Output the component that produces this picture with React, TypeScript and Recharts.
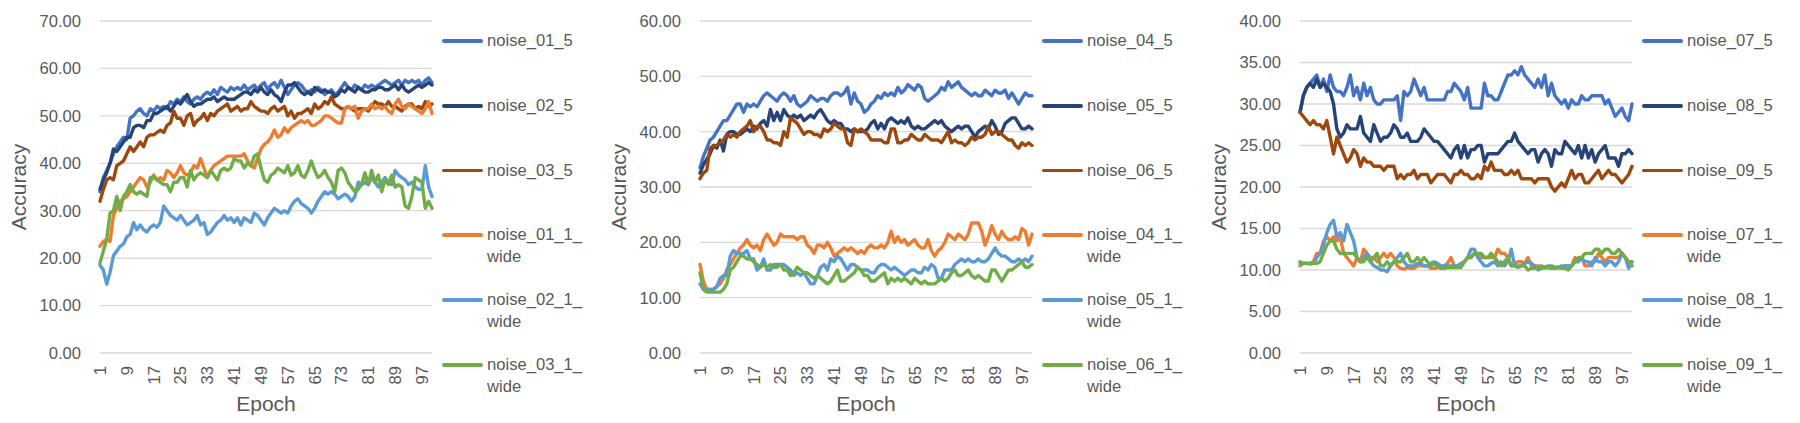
import React from 'react';
import { LineChart, Line, XAxis, YAxis, CartesianGrid, Legend, Label } from 'recharts';

// ---------- categories / ticks ----------
const epochs: number[] = Array.from({ length: 100 }, (_, i) => i + 1);
const xTicks = [1, 9, 17, 25, 33, 41, 49, 57, 65, 73, 81, 89, 97];
const yTicks1 = [0, 10, 20, 30, 40, 50, 60, 70];
const yTicks2 = [0, 10, 20, 30, 40, 50, 60];
const yTicks3 = [0, 5, 10, 15, 20, 25, 30, 35, 40];

const names1 = ['noise_01_5', 'noise_02_5', 'noise_03_5', 'noise_01_1_wide', 'noise_02_1_wide', 'noise_03_1_wide'];
const names2 = ['noise_04_5', 'noise_05_5', 'noise_06_5', 'noise_04_1_wide', 'noise_05_1_wide', 'noise_06_1_wide'];
const names3 = ['noise_07_5', 'noise_08_5', 'noise_09_5', 'noise_07_1_wide', 'noise_08_1_wide', 'noise_09_1_wide'];

// ---------- chart 1 series ----------
const noise_01_5 = [
  34, 37, 38.5, 40, 42, 43.5, 44.5, 45.5, 45, 49.5,
  50, 51, 51.5, 50.5, 50, 51.5, 51, 52, 51.5, 52,
  51.5, 53, 52.5, 53.5, 53, 54, 53, 52.5, 53.5, 54,
  53.5, 54.5, 55, 54.5, 55.5, 54.5, 56, 55.5, 55, 56,
  55.5, 56, 55.5, 56.5, 55.5, 56, 56.5, 55.5, 56.5, 57,
  55.5, 56.5, 57, 56, 57.5, 56, 54.5, 55.5, 56.5, 57,
  56.5, 55.5, 55, 55.5, 55, 56, 55.5, 54.5, 55, 55.5,
  54.5, 55, 56, 57, 56, 55.5, 56.5, 56, 55.5, 56.5,
  56, 56.5, 56, 56.5, 57, 57.5, 57, 56.5, 57, 57.5,
  56.5, 57.5, 57, 57.5, 57, 57.5, 56.5, 57.5, 58, 57,
];
const noise_02_5 = [
  34.5, 36.5, 38, 40, 43, 42.5, 43.5, 44.5, 45.5, 45.5,
  47.5, 48, 48, 47.5, 49, 49, 50.5, 50.5, 51, 51.5,
  52, 51, 52, 53, 52.5, 53.5, 54.5, 53, 52, 52.5,
  52.5, 53, 53.5, 53.5, 54, 53, 53.5, 54, 53.5, 53.5,
  53.5, 54, 54.5, 55, 55, 54.5, 55.5, 55, 56, 55,
  54.5, 55.5, 54.5, 54, 53, 55, 56.5, 56.5, 57, 56,
  55, 54.5, 55, 54.5, 56, 55.5, 55, 55.5, 55, 55,
  54, 54.5, 55.5, 55, 56, 55.5, 55, 56, 55.5, 55,
  55, 55.5, 55.5, 56, 56, 55.5, 55.5, 56, 56.5, 55.5,
  56.5, 55.5, 55, 55.5, 56, 56.5, 56, 56.5, 57, 56.5,
];
const noise_03_5 = [
  32, 34.5, 36.5, 37, 36.5, 39.5, 40, 40.5, 42, 43.5,
  42.5, 43.5, 44.5, 43.5, 45.5, 46, 46, 46.5, 47, 46.5,
  48, 48.5, 51, 49.5, 49.5, 48, 50, 50.5, 48, 49,
  49.5, 50.5, 49, 50.5, 50, 51, 51.5, 52, 52.5, 51,
  51.5, 52, 51, 51.5, 51.5, 53, 52, 51.5, 51, 51,
  50.5, 51.5, 52, 51, 51.5, 52, 50, 51, 49.5, 50.5,
  50.5, 51, 51.5, 50.5, 52.5, 51.5, 52, 53, 52.5, 54,
  52.5, 52, 51.5, 51.5, 52, 51.5, 51, 51.5, 51.5, 51.5,
  51, 52, 53, 52.5, 52.5, 52, 53, 52, 52, 51.5,
  51, 52, 52.5, 52.5, 51.5, 52, 51.5, 53, 52, 52.5,
];
const noise_01_1_wide = [
  22.5, 23.5, 24, 23.5, 29, 30.5, 32, 32.5, 33, 34,
  35, 36, 37, 36.5, 35, 36, 37.5, 36.5, 37, 36.5,
  38.5, 38, 37, 38, 39.5, 38, 37.5, 38, 39.5, 39,
  41, 39, 37, 38.5, 39.5, 40, 40.5, 41, 41.5, 41.5,
  41.5, 41.5, 41.5, 42, 40.5, 39.5, 39, 41, 43, 44,
  44.5, 45.5, 47, 45.5, 46, 47.5, 46.5, 47.5, 48, 48.5,
  49, 48.5, 49, 48, 48, 48.5, 49, 50, 50, 49.5,
  49, 48.5, 48.5, 51.5, 52, 51.5, 52, 49.5, 51, 51.5,
  51.5, 52.5, 51.5, 52, 51.5, 52, 51, 50.5, 52.5, 53.5,
  52, 51.5, 52.5, 52, 51.5, 51, 50.5, 51.5, 53, 50.5,
];
const noise_02_1_wide = [
  18.5, 17.5, 14.5, 17, 20.5, 21.5, 22.5, 23, 24.5, 25,
  27.5, 26, 27, 26, 25.5, 26.5, 27, 26.5, 27.5, 31,
  30, 29, 28.5, 28, 29, 28, 27, 27.5, 28, 29,
  27, 27.5, 25, 25.5, 26.5, 27.5, 28, 29, 28, 28.5,
  27.5, 28.5, 27, 28.5, 28, 27.5, 29.5, 29, 28, 27,
  28.5, 29.5, 30.5, 30, 29.5, 30, 29.5, 31, 32, 32.5,
  31.5, 31, 30.5, 29.5, 30.5, 32, 33, 34, 33.5, 34,
  33.5, 32.5, 33, 33.5, 33, 32, 33, 36, 35.5, 36,
  35.5, 37, 36, 35, 36, 37, 36, 35.5, 38.5, 37.5,
  37, 36.5, 35.5, 36, 35, 34.5, 34.5, 39.5, 35, 33,
];
const noise_03_1_wide = [
  19, 21.5, 24, 29.5, 30, 33, 30, 33, 34, 35.5,
  34, 33.5, 34, 33.5, 33, 37, 37, 36.5, 36, 35.5,
  35.5, 34, 36, 36, 37, 37, 35, 38.5, 36.5, 37.5,
  38, 37.5, 37, 38.5, 37.5, 36.5, 38.5, 39, 38.5, 39,
  41, 40.5, 40.5, 39, 40, 39.5, 41.5, 42, 39, 36.5,
  36, 37.5, 38, 39, 38.5, 38, 39.5, 37.5, 38, 39.5,
  37.5, 37, 38.5, 40.5, 38.5, 37, 37.5, 38.5, 37, 36,
  34, 38.5, 39, 38, 36, 35, 34, 34.5, 35.5, 38,
  35.5, 38.5, 36, 37.5, 34, 36.5, 35.5, 37.5, 35, 35.5,
  35, 31, 30.5, 33, 37, 36.5, 36, 30.5, 32, 30.5,
];

// ---------- chart 2 series ----------
const noise_04_5 = [
  33.5, 35.5, 37, 38.5, 39, 40, 41, 42, 42, 43,
  44, 45, 45, 43.5, 45, 44.5, 45, 44.5, 45.5, 46.5,
  47, 46.5, 46, 45.5, 46.5, 47, 46.5, 45.5, 46.5, 45,
  44.5, 45, 45.5, 46.5, 46, 45.5, 46, 46, 45.5, 46.5,
  47, 47, 46.5, 47, 48, 45, 47, 45.5, 45, 43.5,
  44, 45, 45.5, 46.5, 46, 47, 46.5, 47, 46.5, 48,
  47, 47.5, 48.5, 48, 47.5, 48.5, 48, 46, 45.5, 46,
  46.5, 47, 48, 47.5, 49, 48, 48.5, 49, 48, 47.5,
  47, 46.5, 47, 46.5, 46.5, 47.5, 47, 46.5, 47.5, 47,
  47, 47.5, 46, 47, 46, 45, 46, 47, 46.5, 46.5,
];
const noise_05_5 = [
  32.5, 34, 35, 36, 37.5, 37, 38.5, 36.5, 39.5, 40,
  40, 39.5, 39.5, 40, 40.5, 40, 41, 40.5, 41.5, 42,
  41, 44, 42, 43.5, 42, 44, 43, 42.5, 43, 42.5,
  43, 42, 42.5, 43, 42.5, 43.5, 44, 43, 42, 41.5,
  42, 41.5, 41.5, 40.5, 40.5, 40, 40.5, 40, 40, 40,
  40.5, 41.5, 42, 40.5, 41.5, 40.5, 42, 42.5, 42, 41.5,
  42, 41.5, 42.5, 41, 40.5, 41, 40.5, 40.5, 41, 41.5,
  42, 41.5, 42, 41, 40.5, 40, 40.5, 41, 40.5, 41,
  41, 40, 39, 40, 40.5, 41, 40.5, 42, 41, 39.5,
  40, 41.5, 42, 42.5, 42.5, 41.5, 40.5, 40.5, 41, 40.5,
];
const noise_06_5 = [
  31.5, 32.5, 33, 37, 37.5, 37.5, 38, 38.5, 39.5, 39,
  39.5, 39, 40, 40.5, 41, 42, 40, 41, 41, 40,
  38.5, 38.5, 38, 38, 37.5, 40, 39, 42.5, 42, 41.5,
  40.5, 39.5, 40, 40, 39.5, 39.5, 39, 40.5, 40, 40.5,
  41.5, 41, 40.5, 40.5, 38, 37.5, 40.5, 40, 40.5, 40,
  39.5, 38.5, 38.5, 38.5, 38.5, 38, 38, 40.5, 40.5, 38,
  38, 38.5, 38.5, 39.5, 39, 38.5, 38.5, 39.5, 39, 38.5,
  38.5, 38.5, 38, 39, 40, 38, 38.5, 38, 38, 37.5,
  38, 39, 38.5, 39, 39, 39.5, 41, 39.5, 40, 40,
  39.5, 39, 38.5, 38.5, 37.5, 37, 38, 37.5, 38, 37.5,
];
const noise_04_1_wide = [
  16, 13, 11.5, 11.5, 11.5, 12, 12.5, 13.5, 15, 16,
  17, 18, 19, 19.5, 20.5, 19.5, 19, 19.5, 18.5, 20.5,
  21.5, 20.5, 19.5, 20, 21.5, 21, 21, 21, 21, 20.5,
  21, 21, 19.5, 19, 18, 19.5, 19.5, 19, 20, 19,
  17.5, 18, 18.5, 19, 18.5, 19, 18.5, 18, 18.5, 18,
  19, 19.5, 19, 19, 19.5, 19, 20, 22, 20, 21,
  20, 20.5, 19.5, 20, 20.5, 19.5, 19, 19, 20.5, 18.5,
  17.5, 18.5, 19, 20, 21.5, 21, 20.5, 21.5, 21, 20.5,
  21.5, 23.5, 23.5, 23.5, 22, 19.5, 21, 23, 21.5, 20.5,
  22, 21, 20.5, 20.5, 21, 20.5, 22.5, 22, 19.5, 21.5,
];
const noise_05_1_wide = [
  12.5, 11.5, 11.5, 11.5, 11.5, 12, 13.5, 14, 14, 17.5,
  18.5, 18, 18, 18, 18.5, 17, 17, 15, 15.5, 17,
  15, 15, 16, 16, 16, 16, 15.5, 15, 14, 14.5,
  14, 14.5, 13.5, 12.5, 12.5, 14, 15.5, 16, 15, 17,
  16.5, 17.5, 17, 16, 15, 16, 16, 15.5, 15, 15,
  15, 14.5, 14.5, 15.5, 16, 16, 15.5, 15, 15.5, 15,
  14.5, 14, 14.5, 15, 15, 14.5, 14.5, 15.5, 15, 16,
  15.5, 13.5, 13.5, 15, 15, 15, 16, 16.5, 17, 16.5,
  17, 16.5, 16.5, 17, 16.5, 16.5, 17, 18, 19, 18,
  17.5, 17.5, 17, 16.5, 16.5, 17, 16.5, 17, 16.5, 17.5,
];
const noise_06_1_wide = [
  14.5, 11.5, 11, 11, 11, 11, 11, 11.5, 12.5, 15,
  15.5, 16.5, 17.5, 17.5, 17, 17, 16.5, 16, 15.5, 16,
  15.5, 16, 15.5, 15.5, 16, 15, 15, 14, 14.5, 15.5,
  15, 14.5, 14.5, 14, 13.5, 14, 13.5, 13, 12.5, 13,
  14, 15, 13, 13, 13.5, 14, 14.5, 15.5, 15, 14,
  14, 13, 13, 13.5, 14, 14.5, 12.5, 13.5, 13, 13.5,
  13, 13.5, 13, 12.5, 13.5, 13, 12.5, 13, 12.5, 12.5,
  12.5, 13, 13.5, 13, 13.5, 14.5, 15, 14, 14, 14.5,
  15, 14, 13.5, 14, 13.5, 13, 13, 15, 15, 14,
  13, 14, 15, 15, 15.5, 16, 16.5, 15.5, 15.5, 16,
];

// ---------- chart 3 series ----------
const noise_07_5 = [
  29, 31, 32, 32.5, 33, 33.5, 32, 33, 31.5, 33.5,
  32, 31.5, 31.5, 31, 32, 33.5, 31, 32, 30.5, 32.5,
  31, 32, 30.5, 30, 30, 30.5, 30.5, 30.5, 30.5, 31,
  28, 31.5, 31, 31.5, 33, 32, 31, 32, 30.5, 30.5,
  30.5, 30.5, 30.5, 30.5, 31.5, 31.5, 32.5, 32, 31.5, 30.5,
  32, 29.5, 29.5, 29.5, 29.5, 32.5, 31, 31, 30.5, 30.5,
  31.5, 32.5, 33.5, 33.5, 34, 33.5, 34.5, 33.5, 33, 32.5,
  32, 33, 32, 33.5, 31, 32.5, 31, 30.5, 30, 30.5,
  29.5, 30.5, 30, 30, 31, 30.5, 30.5, 31, 31, 31,
  31, 30, 30.5, 29.5, 28.5, 29, 29.5, 28.5, 28, 30,
];
const noise_08_5 = [
  29, 31, 32, 32.5, 32, 33, 32, 32.5, 32, 31.5,
  30, 27, 26, 26.5, 27.5, 27, 27, 27, 28.5, 26.5,
  26, 25.5, 27.5, 26.5, 25.5, 26, 26, 26.5, 27.5, 27,
  26, 26, 26.5, 25.5, 25.5, 25.5, 26, 27, 26.5, 26,
  25.5, 25.5, 25, 24.5, 24, 23.5, 24.5, 25, 23.5, 25,
  23.5, 24.5, 24.5, 25, 25, 23, 24, 24, 24, 24,
  24.5, 25, 25.5, 25.5, 26.5, 25.5, 25, 24.5, 24, 24.5,
  24.5, 23, 24, 24.5, 24, 22.5, 24.5, 24, 24, 25.5,
  25, 24.5, 24, 25, 23.5, 25, 23.5, 24.5, 23, 24,
  24.5, 25, 23.5, 23.5, 23.5, 22.5, 24, 24, 24.5, 24,
];
const noise_09_5 = [
  29, 28.5, 28, 27.5, 28, 27.5, 27.5, 27, 28, 26,
  24, 26, 25, 24, 23, 23.5, 24.5, 24, 22.5, 23.5,
  23, 23, 22.5, 22.5, 22.5, 22, 22.5, 22.5, 22.5, 21,
  21.5, 21, 21.5, 21.5, 22, 21, 21.5, 21.5, 21.5, 20.5,
  21, 21.5, 21.5, 21.5, 21, 20.5, 21.5, 21.5, 22, 21.5,
  21.5, 21, 21, 21.5, 21, 22.5, 22, 23, 22, 22,
  22, 21.5, 21.5, 22, 21.5, 22, 21, 21, 21, 21,
  20.5, 21, 21, 21, 21, 20, 19.5, 20, 20.5, 20,
  21, 22, 21, 21.5, 21.5, 20.5, 20.5, 21, 21.5, 22,
  21, 21.5, 22, 21.5, 21.5, 21, 20.5, 21, 21.5, 22.5,
];
const noise_07_1_wide = [
  10.5, 10.8, 10.8, 10.8, 11, 12, 12, 13.5, 14, 13.5,
  14, 13.5, 14, 12, 11.5, 11, 10.5, 11.5, 11, 12.5,
  12, 11.5, 11.5, 11, 11.5, 12, 11.5, 12, 11.5, 10.5,
  10.2, 10.1, 10.3, 10.2, 10.2, 10.5, 10.5, 10.5, 10.5, 10.2,
  10.2, 10.3, 10.3, 10.5, 10.8, 11.5, 10.5, 10.5, 10.5, 11,
  11.5, 11.5, 12, 12, 11.5, 11.5, 11.5, 11.5, 11.5, 12.5,
  12, 12, 11.5, 10.5, 10.8, 11, 11, 10.8, 11.5, 10.5,
  10.5, 10.5, 10.5, 10.3, 10.3, 10.2, 10.2, 10.3, 10.3, 10.5,
  10.5, 10.5, 11.5, 11, 11.5, 10.5, 10.5, 11, 11, 12,
  11.5, 11, 11.5, 11.5, 11.5, 11.5, 12, 11.5, 11, 11,
];
const noise_08_1_wide = [
  11, 10.8, 10.8, 10.8, 10.8, 11.5, 12, 13, 14.5, 15.5,
  16, 14, 14.5, 13.5, 15.5, 14.5, 13.5, 11.5, 11, 11.5,
  12, 11, 10.5, 10.3, 10, 10, 9.8, 10.5, 11, 11.5,
  12, 11, 10.5, 10.5, 10.5, 10.8, 10.8, 10.5, 10.5, 10.8,
  11, 10.8, 10.5, 10.5, 10.5, 10.5, 10.5, 10.5, 10.8, 11,
  11.5, 12.5, 12.5, 11.5, 11, 10.5, 10.5, 10.8, 11, 10.5,
  11, 10.5, 11, 12.5, 10.5, 10.5, 10.5, 10.8, 11, 10.8,
  10.5, 10, 10.2, 10.3, 10.5, 10.5, 10.3, 10.3, 10.5, 10.5,
  10.5, 10.5, 11, 11, 11.5, 11, 11, 10.5, 11.5, 11,
  11, 10.5, 11, 11, 10.5, 11, 12, 11.5, 10.2, 11,
];
const noise_09_1_wide = [
  10.8, 10.8, 10.8, 10.7, 10.8, 10.8, 11, 12, 13, 13.5,
  13.5, 12.5, 12, 12, 12, 12, 12, 11.5, 11, 11,
  11.5, 11, 11.5, 12, 10.5, 10.5, 11, 10.5, 11, 11,
  11, 11.5, 12, 11, 11, 11.5, 11, 11.5, 11, 10.5,
  10.8, 10.5, 10.2, 10.2, 10.3, 10.3, 10.3, 10.3, 10.3, 11,
  11.5, 11.5, 12, 12, 12, 11.5, 11.5, 12, 11.5, 11,
  10.5, 11, 11.5, 10.5, 10.5, 10.3, 10.5, 10.5, 10, 10.2,
  10.2, 10.3, 10.3, 10.3, 10.3, 10.3, 10.3, 10.3, 10.2, 10.2,
  10, 10.5, 11, 11.5, 11.5, 12, 12, 12, 12.5, 12.5,
  12, 12.5, 12.5, 12, 12, 12.5, 12, 11.5, 11, 10.5,
];

const colors = ['#4472C4', '#264478', '#9E480E', '#ED7D31', '#5B9BD5', '#70AD47'];

const FONT = '"Liberation Sans", Arial, sans-serif';
const TEXT = '#595959';
const TICK_SIZE = 16.6;

function buildRows(names: string[], series: number[][]) {
  return epochs.map((e, i) => {
    const row: Record<string, number> = { epoch: e };
    names.forEach((n, k) => {
      row[n] = series[k][i];
    });
    return row;
  });
}

const charts = [
  {
    names: names1,
    rows: buildRows(names1, [noise_01_5, noise_02_5, noise_03_5, noise_01_1_wide, noise_02_1_wide, noise_03_1_wide]),
    yTicks: yTicks1,
  },
  {
    names: names2,
    rows: buildRows(names2, [noise_04_5, noise_05_5, noise_06_5, noise_04_1_wide, noise_05_1_wide, noise_06_1_wide]),
    yTicks: yTicks2,
  },
  {
    names: names3,
    rows: buildRows(names3, [noise_07_5, noise_08_5, noise_09_5, noise_07_1_wide, noise_08_1_wide, noise_09_1_wide]),
    yTicks: yTicks3,
  },
];

const XTick = (props: any) => {
  const { x, y, payload } = props;
  return (
    <text
      x={x}
      y={y}
      transform={`rotate(-90 ${x} ${y})`}
      textAnchor="end"
      dy="0.355em"
      fill={TEXT}
      fontSize={TICK_SIZE}
      fontFamily={FONT}
    >
      {payload.value}
    </text>
  );
};

const YTitle = (props: any) => {
  const vb = props.viewBox || { x: 0, y: 21, width: 100, height: 332 };
  const cx = vb.x + 19;
  const cy = vb.y + vb.height / 2;
  return (
    <text
      x={cx}
      y={cy}
      transform={`rotate(-90 ${cx} ${cy})`}
      textAnchor="middle"
      dy="0.355em"
      fill={TEXT}
      fontSize={21}
      fontFamily={FONT}
    >
      Accuracy
    </text>
  );
};

const XTitle = (props: any) => {
  const vb = props.viewBox || { x: 100, y: 353, width: 332, height: 70 };
  return (
    <text
      x={vb.x + vb.width / 2}
      y={vb.y + 58}
      textAnchor="middle"
      fill={TEXT}
      fontSize={21}
      fontFamily={FONT}
    >
      Epoch
    </text>
  );
};

const LegendContent = (props: any) => {
  const order: string[] = props.order || [];
  const payload: any[] = [...(props.payload || [])].sort(
    (a, b) => order.indexOf(String(a.value)) - order.indexOf(String(b.value)),
  );
  return (
    <div style={{ position: 'relative', width: 158, height: 423, fontFamily: FONT }}>
      {payload.map((p, i) => {
        const name = String(p.value);
        const lines = name.endsWith('_wide') ? [name.slice(0, -4), 'wide'] : [name];
        const cy = 41 + i * 64.8;
        return (
          <div key={name} style={{ position: 'absolute', left: 0, top: cy - 11, width: 158, height: 44 }}>
            <div
              style={{
                position: 'absolute',
                left: 0,
                top: 11 - 1.9,
                width: 41,
                height: 3.8,
                borderRadius: 2,
                background: p.color,
              }}
            />
            <div
              style={{
                position: 'absolute',
                left: 45,
                top: 0,
                fontSize: TICK_SIZE,
                lineHeight: '22px',
                color: TEXT,
                whiteSpace: 'nowrap',
              }}
            >
              {lines.map((l) => (
                <div key={l}>{l}</div>
              ))}
            </div>
          </div>
        );
      })}
    </div>
  );
};

function Panel({ names, rows, yTicks }: { names: string[]; rows: any[]; yTicks: number[] }) {
  const yMax = yTicks[yTicks.length - 1];
  return (
    <LineChart width={600} height={423} data={rows} margin={{ top: 21, right: 168, bottom: 0, left: 0 }}>
      <CartesianGrid vertical={false} stroke="#D9D9D9" strokeWidth={1.3} />
      <XAxis
        dataKey="epoch"
        type="number"
        domain={[1, 100]}
        ticks={xTicks}
        interval={0}
        axisLine={false}
        tickLine={false}
        tickSize={0}
        tickMargin={13}
        height={70}
        tick={<XTick />}
      >
        <Label content={<XTitle />} />
      </XAxis>
      <YAxis
        type="number"
        domain={[0, yMax]}
        ticks={yTicks}
        interval={0}
        axisLine={false}
        tickLine={false}
        tickSize={0}
        tickMargin={19}
        width={100}
        tickFormatter={(v: number) => v.toFixed(2)}
        tick={{ fill: TEXT, fontSize: TICK_SIZE, fontFamily: FONT }}
      >
        <Label content={<YTitle />} />
      </YAxis>
      <Legend
        layout="vertical"
        align="right"
        verticalAlign="top"
        content={<LegendContent order={names} />}
        wrapperStyle={{ left: 442, top: 0, right: 'auto', width: 0, height: 423, overflow: 'visible' }}
      />
      {names.map((n, k) => (
        <Line
          key={n}
          dataKey={n}
          name={n}
          type="linear"
          stroke={colors[k]}
          strokeWidth={3.4}
          strokeLinejoin="round"
          strokeLinecap="round"
          dot={false}
          activeDot={false}
          isAnimationActive={false}
        />
      ))}
    </LineChart>
  );
}

export default function App() {
  return (
    <div
      style={{
        position: 'absolute',
        left: 0,
        top: 0,
        width: 1800,
        height: 423,
        background: '#ffffff',
        fontFamily: FONT,
        overflow: 'hidden',
      }}
    >
      {charts.map((c, i) => (
        <div key={i} style={{ position: 'absolute', left: i * 600, top: 0, width: 600, height: 423 }}>
          <Panel names={c.names} rows={c.rows} yTicks={c.yTicks} />
        </div>
      ))}
    </div>
  );
}
